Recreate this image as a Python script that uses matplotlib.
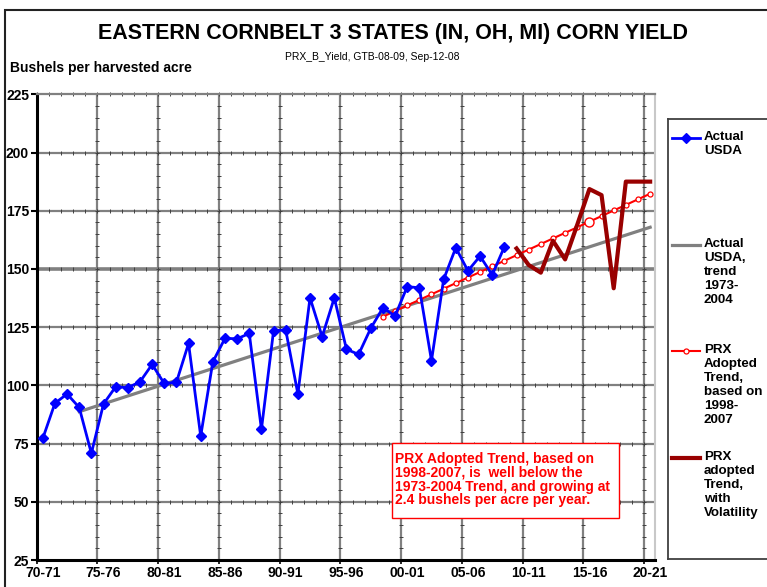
import matplotlib.pyplot as plt
import matplotlib.patches as patches
import numpy as np

plt.rcParams['font.family'] = ['Liberation Sans', 'DejaVu Sans']

# Actual USDA yields, 1970-2008 (bushels per harvested acre)
usda_years = list(range(1970, 2009))
usda_vals = [77.2, 92.3, 96.3, 90.5, 70.8, 92.0, 99.4, 99.0, 101.5, 109.0,
             100.8, 101.3, 118.0, 78.2, 110.1, 120.2, 120.0, 122.3, 81.1, 123.5,
             123.8, 96.3, 137.6, 120.9, 137.6, 115.5, 113.3, 124.5, 133.3, 129.8,
             142.4, 141.9, 110.6, 145.5, 159.1, 149.2, 155.5, 147.4, 159.5]

# Actual USDA trend 1973-2004
trend_years = [1973, 2020]
trend_vals = [88.7, 167.9]

# PRX adopted trend (1998-2007 base)
prx_years = list(range(1998, 2021))
prx_vals = [129.5, 131.9, 134.3, 136.7, 139.1, 141.5, 143.9, 146.3, 148.7, 151.1,
            153.5, 155.9, 158.3, 160.7, 163.1, 165.5, 167.9, 170.3, 172.7, 175.1,
            177.5, 179.9, 182.3]

# PRX adopted trend with volatility
vol_years = list(range(2009, 2021))
vol_vals = [158.8, 151.7, 148.4, 162.1, 154.1, 169.0, 184.3, 181.7, 141.7,
            187.5, 187.5, 187.5]

label_years = list(range(1970, 2021, 5))
tick_labels = ['70-71', '75-76', '80-81', '85-86', '90-91', '95-96',
               '00-01', '05-06', '10-11', '15-16', '20-21']
y_ticks = [25, 50, 75, 100, 125, 150, 175, 200, 225]

W, H = 767, 587
fig = plt.figure(figsize=(W / 100, H / 100), dpi=100)

def fx(px):
    return px / W

def fy(py):
    return 1 - py / H

# outer chart border
fig.patches.append(patches.Rectangle((fx(5), fy(800)), fx(800), fy(10) - fy(800),
                                     transform=fig.transFigure, fill=False,
                                     edgecolor='#222222', lw=1.5))

ax = fig.add_axes([fx(36.7), fy(560), fx(655) - fx(36.7), fy(94.3) - fy(560)])
ax.set_xlim(1969.5, 2020.4)
ax.set_ylim(25, 225)

# grid at category boundaries
grid_x = [y - 0.5 for y in label_years]
for gx in grid_x[1:]:
    ax.axvline(gx, color='#808080', lw=1.6, zorder=1)
for gy in y_ticks[1:-1]:
    ax.axhline(gy, color='#808080', lw=2.6 if gy == 150 else 1.6, zorder=1)

# small tick marks along gridlines
minor_x = np.arange(1969.5, 2020.5, 1.0)
minor_y = np.arange(25, 226, 5)
for gy in y_ticks[1:]:
    ax.plot(minor_x, [gy] * len(minor_x), ls='none', marker='|', ms=2.5,
            color='#404040', mew=0.7, zorder=1.5, clip_on=False)
for gx in grid_x[1:]:
    ax.plot([gx] * len(minor_y), minor_y, ls='none', marker='_', ms=2.5,
            color='#404040', mew=0.7, zorder=1.5)

ax.plot(trend_years, trend_vals, color='#808080', lw=2.3, zorder=3)
ax.plot(usda_years, usda_vals, color='#0000FF', lw=2.0, marker='D', ms=5.5,
        mec='#0000FF', mfc='#0000FF', zorder=5)
ax.plot(prx_years, prx_vals, color='#FF0000', lw=1.5, marker='o', ms=3.6,
        mfc='white', mec='#FF0000', mew=0.9, zorder=4)
ax.plot(prx_years[17], prx_vals[17], marker='o', ms=6.5, mfc='white',
        mec='#FF0000', mew=1.0, zorder=4)
ax.plot(vol_years, vol_vals, color='#990000', lw=3.0, zorder=6)

for side in ['left', 'bottom']:
    ax.spines[side].set_color('black')
    ax.spines[side].set_linewidth(2.2)
ax.spines['top'].set_color('#808080')
ax.spines['top'].set_linewidth(1.6)
ax.spines['right'].set_color('#c8c8c8')
ax.spines['right'].set_linewidth(1.5)

ax.set_yticks(y_ticks)
ax.set_yticklabels([str(v) for v in y_ticks], fontsize=10, fontweight='bold')
ax.tick_params(axis='y', direction='out', length=4, width=1.5, pad=1.5)

ax.set_xticks(grid_x)
ax.set_xticklabels([])
ax.tick_params(axis='x', which='major', direction='out', length=3, width=1.2)
ax.set_xticks(label_years, minor=True)
ax.set_xticklabels(tick_labels, minor=True, fontsize=10, fontweight='bold')
ax.tick_params(axis='x', which='minor', length=0, pad=4)
ax.tick_params(axis='y', which='minor', length=0)

# titles
fig.text(fx(393), fy(33), 'EASTERN CORNBELT 3 STATES (IN, OH, MI) CORN YIELD',
         ha='center', va='center', fontsize=15.5, fontweight='bold')
fig.text(fx(372), fy(57), 'PRX_B_Yield, GTB-08-09, Sep-12-08',
         ha='center', va='center', fontsize=7.5)
fig.text(fx(10), fy(68), 'Bushels per harvested acre',
         ha='left', va='center', fontsize=10, fontweight='bold')

# annotation box
fig.patches.append(patches.Rectangle((fx(391.7), fy(518.3)), fx(619) - fx(391.7),
                                     fy(443.3) - fy(518.3), transform=fig.transFigure,
                                     facecolor='white', edgecolor='#FF0000', lw=1.0,
                                     zorder=10))
fig.text(fx(395), fy(452), 'PRX Adopted Trend, based on\n1998-2007, is  well below the\n'
         '1973-2004 Trend, and growing at\n2.4 bushels per acre per year.',
         ha='left', va='top', fontsize=10, fontweight='bold', color='#FF0000',
         linespacing=0.98, zorder=11)

# legend drawn in its own panel
lax = fig.add_axes([fx(668), fy(559), fx(800) - fx(668), fy(119) - fy(559)])
lax.set_xlim(0, 800 - 668)
lax.set_ylim(559 - 119, 0)
lax.set_xticks([])
lax.set_yticks([])
for s in lax.spines.values():
    s.set_color('#404040')
    s.set_linewidth(1.3)

entries = [
    ('Actual\nUSDA', '#0000FF', 2.0, 'D', 5.5, '#0000FF'),
    ('Actual\nUSDA,\ntrend\n1973-\n2004', '#808080', 2.3, None, 0, None),
    ('PRX\nAdopted\nTrend,\nbased on\n1998-\n2007', '#FF0000', 1.5, 'o', 3.6, 'white'),
    ('PRX\nadopted\nTrend,\nwith\nVolatility', '#990000', 3.0, None, 0, None),
]
for k, (label, col, lw, mk, ms, mfc) in enumerate(entries):
    ly = 19 + k * 106.7
    lax.plot([4, 32], [ly, ly], color=col, lw=lw)
    if mk:
        lax.plot([18], [ly], ls='none', marker=mk, ms=ms, mfc=mfc, mec=col, mew=0.9)
    lax.text(36, ly - 7, label, ha='left', va='top', fontsize=9.6,
             fontweight='bold', linespacing=1.22)

fig.savefig('out.png', dpi=100)
